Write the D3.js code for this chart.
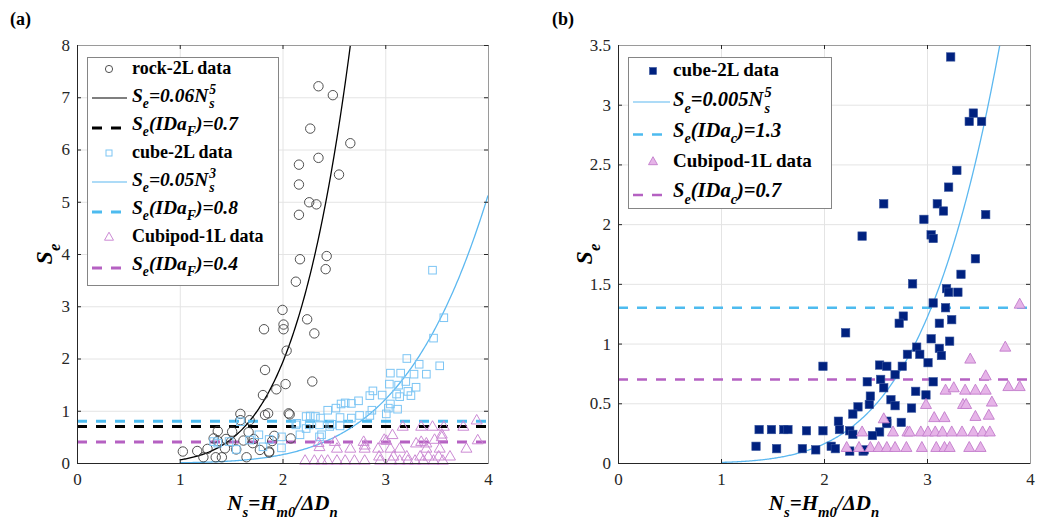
<!DOCTYPE html>
<html><head><meta charset="utf-8">
<script src="https://cdn.jsdelivr.net/npm/d3@7"></script>
<style>body{margin:0;background:#fff}svg{display:block}</style>
</head><body>
<svg id="c" width="1048" height="522"></svg>
<script>
// ---------------- DATA ----------------
const xTicks = [0, 1, 2, 3, 4];
const yTicksA = [0, 1, 2, 3, 4, 5, 6, 7, 8];
const yTicksB = [0, 0.5, 1, 1.5, 2, 2.5, 3, 3.5];

// Panel (a) rock-2L data
const rockNs = [2.35,2.49,2.27,2.66,2.35,2.16,2.55,2.16,2.26,2.33,2.16,2.17,2.43,2.42,2.13,2.00,2.24,1.82,2.01,2.01,2.31,2.04,1.83,2.29,2.03,1.94,1.81,2.06,2.07,1.83,1.92,1.90,2.08,1.87,1.59,1.68,1.86,1.59,1.37,1.51,1.67,1.33,1.37,1.50,1.62,1.71,1.27,1.44,1.55,1.78,1.87,1.03,1.17,1.23,1.35,1.41,1.65,1.45,1.72];
const rockSe = [7.21,7.04,6.40,6.12,5.84,5.71,5.52,5.33,4.99,4.95,4.75,3.90,3.96,3.71,3.47,2.93,2.75,2.56,2.65,2.56,2.48,2.15,1.78,1.56,1.51,1.41,1.30,0.95,0.93,0.92,0.52,0.42,0.47,0.20,0.94,0.82,0.95,0.82,0.61,0.60,0.59,0.47,0.42,0.41,0.43,0.38,0.27,0.28,0.26,0.25,0.22,0.22,0.23,0.11,0.11,0.11,0.11,0.46,0.46];

// Panel (a) cube-2L data
const cubeANs = [3.46,3.57,3.47,3.21,3.33,3.53,3.05,3.15,3.28,3.40,3.20,3.04,3.13,3.30,2.88,3.22,2.85,2.97,3.11,3.14,3.25,2.74,2.61,2.67,2.57,3.05,2.87,2.44,2.52,3.03,3.12,2.75,2.85,3.01,2.27,2.37,2.56,2.67,2.14,2.26,2.36,2.48,2.23,2.46,2.38,2.56,1.33,1.37,1.55,1.48,1.77,1.87,1.99,1.99,2.13,2.17,2.23,1.59,1.68,1.81,2.36,2.32];
const cubeASe = [3.69,2.78,2.39,2.00,1.89,1.86,1.72,1.72,1.70,1.70,1.56,1.51,1.49,1.45,1.38,1.37,1.29,1.30,1.32,1.27,1.29,1.19,1.15,1.14,1.13,1.13,1.01,1.01,1.05,1.05,1.03,0.91,0.91,0.94,0.90,0.86,0.87,0.86,0.76,0.73,0.73,0.74,0.66,0.70,0.54,0.71,0.41,0.38,0.26,0.41,0.54,0.45,0.29,0.50,0.73,0.54,0.89,0.79,0.44,0.31,0.50,0.89];

// Panel (a) Cubipod-1L data
const podANs = [2.22,2.31,2.38,2.44,2.53,2.61,2.70,2.80,2.95,3.06,3.14,3.22,3.29,3.37,3.47,3.56,
  2.94,3.08,3.21,3.34,3.42,3.52,3.63,
  2.53,2.66,2.80,2.93,3.05,3.14,3.40,3.53,3.79,
  2.35,2.51,2.79,3.01,3.35,3.48,3.55,3.90,3.30,3.40,2.99,2.80,2.36,
  3.07,3.55,
  3.17,3.35,3.46,3.57,3.76,3.89];
const podASe = [0.05,0.05,0.05,0.05,0.05,0.05,0.05,0.05,0.05,0.05,0.05,0.05,0.05,0.05,0.05,0.05,
  0.13,0.13,0.13,0.13,0.13,0.13,0.13,
  0.28,0.28,0.28,0.28,0.28,0.28,0.28,0.28,0.28,
  0.39,0.41,0.41,0.43,0.41,0.45,0.50,0.44,0.38,0.38,0.45,0.34,0.31,
  0.54,0.55,
  0.70,0.70,0.70,0.70,0.70,0.82];

// Panel (b) cube-2L data
const cubeBNs = [3.23,3.45,3.41,3.53,3.29,3.21,2.58,3.10,3.16,3.57,2.97,2.37,3.04,3.06,3.47,3.33,2.86,3.19,3.21,3.30,3.06,3.18,2.77,2.73,3.24,3.12,2.21,3.04,3.22,2.90,3.12,3.14,2.81,2.93,3.01,1.99,2.54,2.61,2.76,2.69,2.42,2.55,2.58,3.06,2.89,2.99,2.45,2.44,2.65,2.69,2.33,2.28,2.85,2.14,2.61,2.61,2.75,1.83,1.99,2.15,2.25,2.28,2.54,2.47,1.92,2.07,2.11,2.25,2.38,1.79,1.37,1.49,1.61,1.65,1.34,1.54,2.39];
const cubeBSe = [3.40,2.93,2.86,2.86,2.45,2.31,2.17,2.17,2.11,2.08,2.04,1.90,1.91,1.88,1.71,1.58,1.50,1.46,1.43,1.43,1.34,1.30,1.23,1.17,1.20,1.17,1.09,1.04,1.02,0.97,0.96,0.90,0.91,0.91,0.84,0.81,0.82,0.81,0.81,0.74,0.68,0.70,0.63,0.68,0.60,0.57,0.56,0.49,0.53,0.48,0.47,0.41,0.46,0.35,0.35,0.33,0.34,0.27,0.27,0.28,0.27,0.24,0.26,0.23,0.11,0.14,0.12,0.10,0.10,0.12,0.28,0.28,0.28,0.28,0.14,0.12,0.11];

// Panel (b) Cubipod-1L data
const podBNs = [3.90,3.76,3.42,3.57,3.79,3.90,3.18,3.26,3.37,3.47,3.57,2.99,3.35,3.38,3.63,2.58,3.07,3.17,3.47,3.60,
  2.37,2.67,2.81,2.83,2.94,3.01,3.08,3.15,3.24,3.34,3.45,3.54,3.61,
  2.22,2.34,2.45,2.53,2.61,2.69,2.80,2.95,3.09,3.17,3.22,3.41,3.52];
const podBSe = [1.33,0.97,0.87,0.73,0.64,0.64,0.61,0.63,0.61,0.61,0.61,0.49,0.49,0.49,0.51,0.37,0.38,0.38,0.39,0.40,
  0.26,0.26,0.26,0.26,0.26,0.26,0.26,0.26,0.26,0.26,0.26,0.26,0.26,
  0.13,0.13,0.13,0.13,0.13,0.13,0.13,0.13,0.13,0.13,0.13,0.13,0.13];

// Fitted curves Se = a*Ns^n (as drawn), thresholds
const fitA_rock = [0.06, 5];
const fitA_cube = [0.005, 5];
const fitB_cube = [0.005, 5];
const thrA = [0.7, 0.8, 0.4];
const thrB = [1.3, 0.7];

// ---------------- DRAW ----------------
const svg = d3.select('#c');
const SERIF = "'Liberation Serif','DejaVu Serif',serif";
const AX = '#262626';
const C = {
  black: '#000000', blueLine: '#5cb8f0', blueDash: '#4dbbef', blueSq: '#7cc5f4',
  purple: '#b561c2', triA: '#cc8ad4', navy: '#00217f', navyEdge: '#34529c',
  triFill: '#e6b4e8', triEdge: '#c27ccb'
};

function rich(parent, x, y, segs, fs, anchor, italic) {
  const g = parent.append('g');
  let cx = 0, pend = null;
  segs.forEach(s => {
    const m = s.m || 'n';
    const size = m === 'n' ? fs : fs * 0.7;
    const dy = m === 'sub' ? fs * 0.33 : m === 'sup' ? -fs * 0.42 : 0;
    const t = g.append('text').attr('x', cx + (s.dx || 0)).attr('y', dy).text(s.t)
      .attr('font-size', size).attr('font-family', SERIF).attr('fill', '#000')
      .attr('font-weight', 'bold').attr('font-style', (s.i !== undefined ? s.i : italic) ? 'italic' : 'normal');
    const w = t.node().getComputedTextLength() + (s.dx || 0);
    if (s.stack) { pend = w; }
    else { cx += pend !== null ? Math.max(w, pend) : w; pend = null; }
  });
  const x0 = anchor === 'middle' ? x - cx / 2 : x;
  g.attr('transform', `translate(${x0},${y})`);
  return g;
}

function triPath(w, h) {
  return `M0,${-h*0.6}L${w/2},${h*0.4}L${-w/2},${h*0.4}Z`;
}

function panel(cfg) {
  const x = d3.scaleLinear().domain([0, 4]).range([cfg.l, cfg.r]);
  const y = d3.scaleLinear().domain([0, cfg.ymax]).range([cfg.b, cfg.t]);
  const g = svg.append('g');
  const W = cfg.r - cfg.l, H = cfg.b - cfg.t;
  const cid = 'clip' + cfg.id;
  svg.append('clipPath').attr('id', cid).append('rect')
    .attr('x', cfg.l).attr('y', cfg.t).attr('width', W).attr('height', H);

  // grid
  g.append('g').attr('transform', `translate(0,${cfg.b})`)
    .call(d3.axisBottom(x).tickValues(xTicks).tickSize(-H).tickFormat(''))
    .call(s => { s.select('.domain').remove(); s.selectAll('line').attr('stroke', '#e4e4e4').attr('stroke-width', 1); });
  g.append('g').attr('transform', `translate(${cfg.l},0)`)
    .call(d3.axisLeft(y).tickValues(cfg.yTicks).tickSize(-W).tickFormat(''))
    .call(s => { s.select('.domain').remove(); s.selectAll('line').attr('stroke', '#e4e4e4').attr('stroke-width', 1); });

  const lines = g.append('g').attr('clip-path', `url(#${cid})`);
  const marks = g.append('g');
  cfg.draw(x, y, lines, marks, g);

  // axes
  const tickStyle = s => {
    s.select('.domain').attr('stroke', AX).attr('stroke-width', 1);
    s.selectAll('.tick line').attr('stroke', AX).attr('stroke-width', 1);
    s.selectAll('.tick text').attr('font-family', SERIF).attr('font-size', 17).attr('fill', AX);
  };
  g.append('g').attr('transform', `translate(0,${cfg.b})`)
    .call(d3.axisBottom(x).tickValues(xTicks).tickSizeInner(-4).tickSizeOuter(0).tickPadding(10).tickFormat(d3.format('d')))
    .call(tickStyle);
  g.append('g').attr('transform', `translate(${cfg.l},0)`)
    .call(d3.axisLeft(y).tickValues(cfg.yTicks).tickSizeInner(-4).tickSizeOuter(0).tickPadding(7).tickFormat(cfg.yfmt))
    .call(tickStyle);
  g.append('g').attr('transform', `translate(0,${cfg.t})`)
    .call(d3.axisTop(x).tickValues(xTicks).tickSizeInner(-4).tickSizeOuter(0).tickFormat(''))
    .call(tickStyle).call(s => s.select('.domain').attr('stroke', '#9a9a9a'));
  g.append('g').attr('transform', `translate(${cfg.r},0)`)
    .call(d3.axisRight(y).tickValues(cfg.yTicks).tickSizeInner(-4).tickSizeOuter(0).tickFormat(''))
    .call(tickStyle).call(s => s.select('.domain').attr('stroke', '#9a9a9a'));

  // axis labels
  rich(g, (cfg.l + cfg.r) / 2, 510, [{t:'N'},{t:'s',m:'sub'},{t:'=H'},{t:'m0',m:'sub'},{t:'/ΔD'},{t:'n',m:'sub'}], 21, 'middle', true);
  const yl = g.append('g').attr('transform', `translate(${cfg.yl},${(cfg.t + cfg.b) / 2}) rotate(-90)`);
  rich(yl, 0, 0, [{t:'S'},{t:'e',m:'sub'}], 24, 'middle', true);

  // panel tag
  svg.append('text').attr('x', cfg.tagX).attr('y', 25).text(cfg.tag)
    .attr('font-family', SERIF).attr('font-weight', 'bold').attr('font-size', 18);
  return {x, y};
}

const curvePts = d3.range(1, 4.0001, 0.01);
function drawFit(layer, x, y, fit, color, width) {
  layer.append('path').datum(curvePts)
    .attr('d', d3.line().x(d => x(d)).y(d => y(Math.min(fit[0] * Math.pow(d, fit[1]), 100))))
    .attr('fill', 'none').attr('stroke', color).attr('stroke-width', width);
}
function drawThr(layer, x, y, v, color, width) {
  layer.append('line').attr('x1', x(0)).attr('x2', x(4)).attr('y1', y(v)).attr('y2', y(v))
    .attr('stroke', color).attr('stroke-width', width).attr('stroke-dasharray', '10,9');
}

// ---- Panel (a)
panel({
  id: 'A', l: 77, r: 488, t: 45, b: 463, ymax: 8, yTicks: yTicksA, yfmt: d3.format('d'),
  yl: 52, tag: '(a)', tagX: 10,
  draw: (x, y, lines, marks, g) => {
    marks.selectAll('circle.rock').data(rockNs).join('circle')
      .attr('cx', d => x(d)).attr('cy', (d, i) => y(rockSe[i])).attr('r', 4.7)
      .attr('fill', 'none').attr('stroke', '#3d3d3d').attr('stroke-width', 0.9);
    drawFit(lines, x, y, fitA_rock, C.black, 1.3);
    drawThr(lines, x, y, thrA[0], C.black, 3);
    marks.selectAll('rect.cube').data(cubeANs).join('rect')
      .attr('x', d => x(d) - 3.8).attr('y', (d, i) => y(cubeASe[i]) - 3.8).attr('width', 7.6).attr('height', 7.6)
      .attr('fill', 'none').attr('stroke', C.blueSq).attr('stroke-width', 1);
    drawFit(lines, x, y, fitA_cube, C.blueLine, 1.3);
    drawThr(lines, x, y, thrA[1], C.blueDash, 3);
    marks.selectAll('path.pod').data(podANs).join('path')
      .attr('transform', (d, i) => `translate(${x(d)},${y(podASe[i])})`).attr('d', triPath(11, 9.5))
      .attr('fill', 'none').attr('stroke', C.triA).attr('stroke-width', 1);
    drawThr(lines, x, y, thrA[2], C.purple, 3);

    // legend
    const L = g.append('g');
    L.append('rect').attr('x', 87.5).attr('y', 57.5).attr('width', 191).attr('height', 228)
      .attr('fill', '#fff').attr('stroke', '#858585').attr('stroke-width', 1);
    const base = [74, 102, 130, 158, 186, 214, 242, 270];
    const mx = 109, lx1 = 92, lx2 = 127, tx = 132, fsD = 18, fsF = 19.5;
    L.append('circle').attr('cx', mx).attr('cy', base[0] - 5).attr('r', 3.6).attr('fill', 'none').attr('stroke', '#3d3d3d').attr('stroke-width', 0.9);
    rich(L, tx, base[0], [{t:'rock-2L data'}], fsD, 'start', false);
    L.append('line').attr('x1', lx1).attr('x2', lx2).attr('y1', base[1] - 4).attr('y2', base[1] - 4).attr('stroke', C.black).attr('stroke-width', 1.2);
    rich(L, tx, base[1], [{t:'S'},{t:'e',m:'sub'},{t:'=0.06N'},{t:'5',m:'sup',stack:true,dx:1},{t:'s',m:'sub',dx:1}], fsF, 'start', true);
    L.append('line').attr('x1', lx1).attr('x2', lx2).attr('y1', base[2] - 2).attr('y2', base[2] - 2).attr('stroke', C.black).attr('stroke-width', 3).attr('stroke-dasharray', '10,9');
    rich(L, tx, base[2], [{t:'S'},{t:'e',m:'sub'},{t:'(IDa'},{t:'F',m:'sub'},{t:')=0.7'}], fsF, 'start', true);
    L.append('rect').attr('x', mx - 3).attr('y', base[3] - 8).attr('width', 6).attr('height', 6).attr('fill', 'none').attr('stroke', C.blueSq).attr('stroke-width', 1);
    rich(L, tx, base[3], [{t:'cube-2L data'}], fsD, 'start', false);
    L.append('line').attr('x1', lx1).attr('x2', lx2).attr('y1', base[4] - 4).attr('y2', base[4] - 4).attr('stroke', C.blueLine).attr('stroke-width', 1.2);
    rich(L, tx, base[4], [{t:'S'},{t:'e',m:'sub'},{t:'=0.05N'},{t:'3',m:'sup',stack:true,dx:1},{t:'s',m:'sub',dx:1}], fsF, 'start', true);
    L.append('line').attr('x1', lx1).attr('x2', lx2).attr('y1', base[5] - 2).attr('y2', base[5] - 2).attr('stroke', C.blueDash).attr('stroke-width', 3).attr('stroke-dasharray', '10,9');
    rich(L, tx, base[5], [{t:'S'},{t:'e',m:'sub'},{t:'(IDa'},{t:'F',m:'sub'},{t:')=0.8'}], fsF, 'start', true);
    L.append('path').attr('transform', `translate(${mx},${base[6] - 5})`).attr('d', triPath(9, 8)).attr('fill', 'none').attr('stroke', C.triA).attr('stroke-width', 1);
    rich(L, tx, base[6], [{t:'Cubipod-1L data'}], fsD, 'start', false);
    L.append('line').attr('x1', lx1).attr('x2', lx2).attr('y1', base[7] - 2).attr('y2', base[7] - 2).attr('stroke', C.purple).attr('stroke-width', 3).attr('stroke-dasharray', '10,9');
    rich(L, tx, base[7], [{t:'S'},{t:'e',m:'sub'},{t:'(IDa'},{t:'F',m:'sub'},{t:')=0.4'}], fsF, 'start', true);
  }
});

// ---- Panel (b)
panel({
  id: 'B', l: 618, r: 1030, t: 45, b: 463, ymax: 3.5, yTicks: yTicksB, yfmt: d => d3.format('')(d),
  yl: 592, tag: '(b)', tagX: 552,
  draw: (x, y, lines, marks, g) => {
    marks.selectAll('rect.cb').data(cubeBNs).join('rect')
      .attr('x', d => x(d) - 4.2).attr('y', (d, i) => y(cubeBSe[i]) - 4.2).attr('width', 8.4).attr('height', 8.4)
      .attr('fill', C.navy).attr('stroke', C.navyEdge).attr('stroke-width', 0.6);
    drawFit(lines, x, y, fitB_cube, C.blueLine, 1.3);
    drawThr(lines, x, y, thrB[0], C.blueDash, 2.5);
    marks.selectAll('path.pb').data(podBNs).join('path')
      .attr('transform', (d, i) => `translate(${x(d)},${y(podBSe[i])})`).attr('d', triPath(11, 10))
      .attr('fill', C.triFill).attr('stroke', C.triEdge).attr('stroke-width', 0.9);
    drawThr(lines, x, y, thrB[1], C.purple, 2.5);

    const L = g.append('g');
    L.append('rect').attr('x', 628.5).attr('y', 57.5).attr('width', 203).attr('height', 151)
      .attr('fill', '#fff').attr('stroke', '#858585').attr('stroke-width', 1);
    const base = [76, 106, 136.5, 166.5, 197];
    const mx = 653, lx1 = 633, lx2 = 670, tx = 673, fsD = 19, fsF = 20.5;
    L.append('rect').attr('x', mx - 3.5).attr('y', base[0] - 8.5).attr('width', 7).attr('height', 7).attr('fill', C.navy).attr('stroke', C.navyEdge).attr('stroke-width', 0.6);
    rich(L, tx, base[0], [{t:'cube-2L data'}], fsD, 'start', false);
    L.append('line').attr('x1', lx1).attr('x2', lx2).attr('y1', base[1] - 4).attr('y2', base[1] - 4).attr('stroke', C.blueLine).attr('stroke-width', 1.2);
    rich(L, tx, base[1], [{t:'S'},{t:'e',m:'sub'},{t:'=0.005N'},{t:'5',m:'sup',stack:true,dx:1},{t:'s',m:'sub',dx:1}], fsF, 'start', true);
    L.append('line').attr('x1', lx1).attr('x2', lx2).attr('y1', base[2] - 2).attr('y2', base[2] - 2).attr('stroke', C.blueDash).attr('stroke-width', 2.5).attr('stroke-dasharray', '10,9');
    rich(L, tx, base[2], [{t:'S'},{t:'e',m:'sub'},{t:'(IDa'},{t:'c',m:'sub'},{t:')=1.3'}], fsF, 'start', true);
    L.append('path').attr('transform', `translate(${mx},${base[3] - 5})`).attr('d', triPath(9, 8)).attr('fill', C.triFill).attr('stroke', C.triEdge).attr('stroke-width', 0.9);
    rich(L, tx, base[3], [{t:'Cubipod-1L data'}], fsD, 'start', false);
    L.append('line').attr('x1', lx1).attr('x2', lx2).attr('y1', base[4] - 2).attr('y2', base[4] - 2).attr('stroke', C.purple).attr('stroke-width', 2.5).attr('stroke-dasharray', '10,9');
    rich(L, tx, base[4], [{t:'S'},{t:'e',m:'sub'},{t:'(IDa'},{t:'c',m:'sub'},{t:')=0.7'}], fsF, 'start', true);
  }
});
</script>
</body></html>
